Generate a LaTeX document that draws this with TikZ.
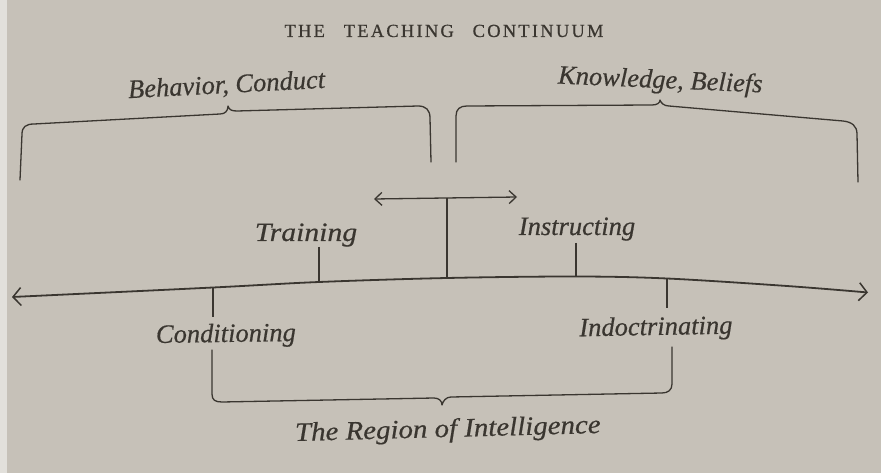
\documentclass[tikz,border=0pt]{standalone}
\usepackage{fontspec}
\setmainfont{Liberation Serif}[ItalicFeatures={FakeBold=0.5}]
\usetikzlibrary{arrows.meta}
\definecolor{paper}{RGB}{198,193,184}
\definecolor{paperedge}{RGB}{226,224,219}
\definecolor{ink}{RGB}{58,54,48}
% horizontal stretch for a single label
\newcommand\stretchx[2]{\scalebox{#1}[1]{#2}}

\begin{document}
\begin{tikzpicture}[x=1pt,y=-1pt,
  inkline/.style={draw=ink, line width=1.3pt, line cap=round, line join=round},
  axisline/.style={draw=ink, line width=1.8pt},
  tickline/.style={draw=ink, line width=1.2pt},
  bigbarb/.style={{Straight Barb[length=8pt,width=18pt,line width=1.5pt]}-{Straight Barb[length=8pt,width=18pt,line width=1.5pt]}},
  smallbarb/.style={{Straight Barb[length=7pt,width=13pt,line width=1.3pt]}-{Straight Barb[length=7pt,width=13pt,line width=1.3pt]}},
  lab/.style={text=ink, font=\itshape\fontsize{26.5}{29}\selectfont, inner sep=0pt, anchor=base}]

% paper
\useasboundingbox (0,0) rectangle (881,473);
\fill[paper] (0,0) rectangle (881,473);
\fill[paperedge] (0,0) rectangle (7,473);

% title
\node[text=ink, font=\fontsize{18.5}{20}\selectfont\addfontfeature{LetterSpace=12,FakeBold=0.6}, anchor=base, inner sep=0pt]
  (title) at (444,37) {THE\hspace{12pt} TEACHING\hspace{12pt} CONTINUUM};

% upper labels
\node[lab, rotate=3] (behav) at (227,93) {Behavior, Conduct};
\node[lab, rotate=-2.5] (know) at (660,88) {Knowledge, Beliefs};

% left upper brace
\coordinate (lbA) at (20,180);
\coordinate (lbT) at (228,106);
\coordinate (lbB) at (431,162);
\draw[inkline] (lbA) -- (22,134) .. controls (22,127) and (26,124) .. (34,124)
  -- (220,114) .. controls (225,114) and (228,111) .. (lbT)
  .. controls (229,110) and (232,111) .. (237,111)
  -- (418,106) .. controls (426,106) and (430,110) .. (430,118) -- (lbB);

% right upper brace
\coordinate (rbA) at (456,162);
\coordinate (rbT) at (660,100);
\coordinate (rbB) at (858,182);
\draw[inkline] (rbA) -- (456,116) .. controls (456,109) and (460,106) .. (467,106)
  -- (652,105) .. controls (657,105) and (660,103) .. (rbT)
  .. controls (661,103) and (664,106) .. (669,106)
  -- (843,121) .. controls (852,122) and (857,126) .. (857,134) -- (rbB);

% the continuum axis
\coordinate (axL) at (12,297);
\coordinate (axCond) at (213,287.5);
\coordinate (axTrain) at (319,282);
\coordinate (axMid) at (447,278);
\coordinate (axInstr) at (576,276.5);
\coordinate (axIndoc) at (667,278.5);
\coordinate (axR1) at (787,286);
\coordinate (axR) at (868,292.5);
\draw[axisline, bigbarb] plot[smooth, tension=0.55] coordinates
  {(axL) (axCond) (axTrain) (axMid) (axInstr) (axIndoc) (axR1) (axR)};

% central pointer with its double arrow
\coordinate (dblL) at (374,199);
\coordinate (dblR) at (517,197);
\coordinate (stemTop) at (447,198);
\draw[inkline, smallbarb] (dblL) -- (dblR);
\draw[tickline] (stemTop) -- (axMid);

% ticks and their labels
\node[lab] (train) at (306,241) {\stretchx{1.12}{Training}};
\node[lab] (instr) at (577,235) {Instructing};
\node[lab, rotate=0.8] (cond) at (226,342) {Conditioning};
\node[lab, rotate=1] (indoc) at (656,335) {Indoctrinating};

\coordinate (tTrain) at (319,247);
\coordinate (tInstr) at (576,243);
\coordinate (tCond) at (213,317);
\coordinate (tIndoc) at (667,308);
\draw[tickline] (tTrain) -- (axTrain);
\draw[tickline] (tInstr) -- (axInstr);
\draw[tickline] (axCond) -- (tCond);
\draw[tickline] (axIndoc) -- (tIndoc);

% lower brace
\coordinate (bbA) at (212,350);
\coordinate (bbT) at (442,405);
\coordinate (bbB) at (672,347);
\draw[inkline] (bbA) -- (212,394) .. controls (212,400) and (215,402) .. (222,402)
  -- (434,398) .. controls (439,398) and (442,401) .. (bbT)
  .. controls (443,401) and (446,397) .. (451,397)
  -- (662,393) .. controls (668,393) and (672,390) .. (672,384) -- (bbB);

\node[lab, rotate=1.5] (region) at (448,437) {\stretchx{1.09}{The Region of Intelligence}};
\end{tikzpicture}
\end{document}
